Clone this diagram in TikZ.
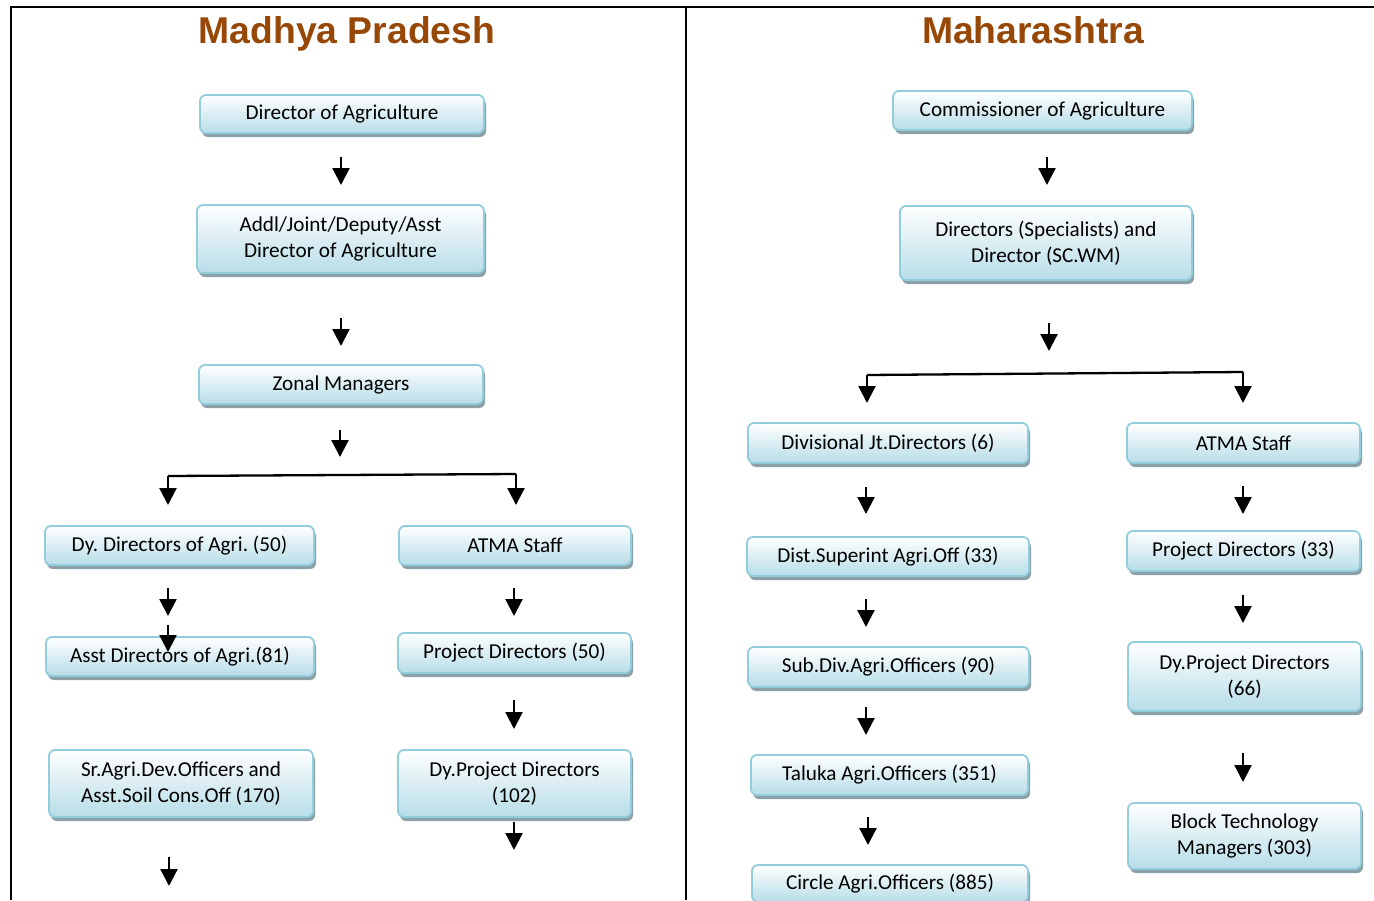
\documentclass[tikz,border=0pt]{standalone}
\usepackage{fontspec}
\setmainfont{Carlito}
\newfontfamily\titlefont{Liberation Sans}
\usetikzlibrary{arrows.meta,shadows}
\definecolor{titlebrown}{RGB}{152,72,6}
\definecolor{boxborder}{RGB}{146,205,220}
\definecolor{boxbottom}{RGB}{183,221,232}
\definecolor{boxshadow}{RGB}{140,160,168}
\tikzset{
  orgbox/.style={rounded corners=6pt, draw=boxborder, line width=1.8pt,
    top color=white, bottom color=boxbottom, align=center,
    inner sep=0pt, font=\fontsize{21.2}{26}\selectfont\frenchspacing,
    drop shadow={shadow xshift=2pt, shadow yshift=-4pt, fill=boxshadow, opacity=1}},
  arr/.style={line width=2.3pt, -{Triangle[width=17pt,length=17pt]}},
  conn/.style={line width=2.3pt},
  frame/.style={line width=2pt},
  ttl/.style={font=\titlefont\bfseries\fontsize{37.3}{44}\selectfont, text=titlebrown, anchor=base, inner sep=0pt}
}
% \bx{name}{x1}{y1}{x2}{y2}{text}
\newcommand{\bx}[6]{%
  \pgfmathsetmacro{\cxx}{(#2+#4)/2}\pgfmathsetmacro{\cyy}{(#3+#5)/2}%
  \pgfmathsetmacro{\wdd}{#4-#2}\pgfmathsetmacro{\htt}{#5-#3}%
  \node[orgbox, minimum width=\wdd pt, minimum height=\htt pt] (#1) at (\cxx,\cyy) {#6};}
\begin{document}
\begin{tikzpicture}[x=1pt,y=-1pt]
\useasboundingbox (0,0) rectangle (1374,900);
\clip (0,0) rectangle (1374,900);
\fill[white] (0,0) rectangle (1374,900);
% frame
\draw[frame] (11,900) -- (11,7) -- (1374,7);
\draw[frame] (686,7) -- (686,900);
% titles
\node[ttl] (t1) at (347,43) {Madhya Pradesh};
\node[ttl] (t2) at (1033,43) {Maharashtra};
% Madhya Pradesh boxes
\bx{m1}{200}{95}{484}{133}{Director of Agriculture}
\bx{m2}{197}{205}{484}{273}{Addl/Joint/Deputy/Asst\\Director of Agriculture}
\bx{m3}{199}{365}{483}{404}{Zonal Managers}
\bx{m4a}{45}{526}{314}{565}{Dy. Directors of Agri. (50)}
\bx{m4b}{399}{526}{631}{565}{ATMA Staff}
\bx{m5a}{46}{637}{314}{676}{Asst Directors of Agri.(81)}
\bx{m5b}{398}{633}{631}{673}{Project Directors (50)}
\bx{m6a}{49}{750}{313}{817}{Sr.Agri.Dev.Officers and\\Asst.Soil Cons.Off (170)}
\bx{m6b}{398}{750}{631}{817}{Dy.Project Directors\\(102)}
% Maharashtra boxes
\bx{h1}{893}{91}{1192}{130}{Commissioner of Agriculture}
\bx{h2}{900}{206}{1192}{280}{Directors (Specialists) and\\Director (SC.WM)}
\bx{h3a}{748}{423}{1028}{463}{Divisional Jt.Directors (6)}
\bx{h3b}{1127}{423}{1360}{463}{ATMA Staff}
\bx{h4a}{747}{537}{1029}{576}{Dist.Superint Agri.Off (33)}
\bx{h4b}{1127}{531}{1360}{571}{Project Directors (33)}
\bx{h5a}{748}{647}{1029}{687}{Sub.Div.Agri.Officers (90)}
\bx{h5b}{1128}{642}{1361}{711}{Dy.Project Directors\\(66)}
\bx{h6a}{751}{755}{1028}{795}{Taluka Agri.Officers (351)}
\bx{h6b}{1128}{803}{1361}{869}{Block Technology\\Managers (303)}
\bx{h7a}{752}{865}{1028}{902}{Circle Agri.Officers (885)}
% free-standing arrows
\foreach \x/\ya/\yb in {341/157/185, 341/318/346, 340/430/457,
  168/588/616, 168/625/652, 514/588/616, 514/700/729, 514/822/850, 169/857/886,
  1047/157/185, 1049/323/351, 866/487/514, 1243/486/514, 866/599/627,
  1243/595/623, 866/707/735, 1243/753/782, 868/817/845}
  \draw[arr] (\x,\ya) -- (\x,\yb);
% branches
\coordinate (mbl) at (168,476); \coordinate (mbr) at (516,474);
\draw[conn] (mbl) -- (mbr);
\draw[arr] (mbl) -- (168,505);
\draw[arr] (mbr) -- (516,505);
\coordinate (hbl) at (867,375); \coordinate (hbr) at (1243,372);
\draw[conn] (hbl) -- (hbr);
\draw[arr] (hbl) -- (867,403);
\draw[arr] (hbr) -- (1243,403);
\end{tikzpicture}
\end{document}
